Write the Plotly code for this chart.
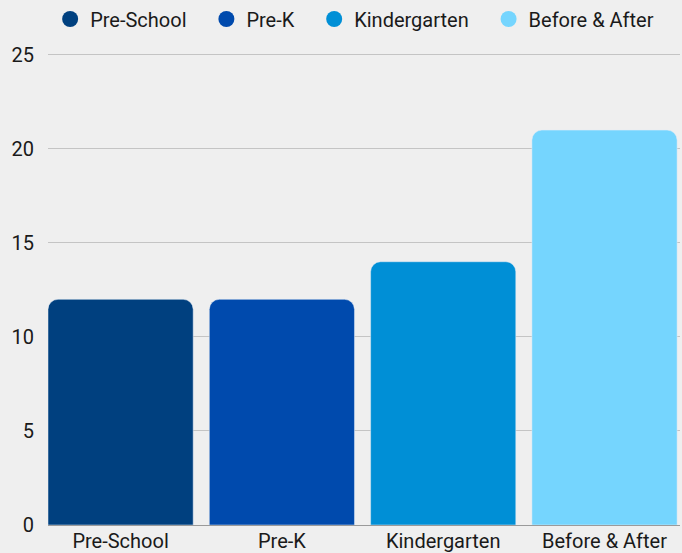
import plotly.graph_objects as go

categories = ["Pre-School", "Pre-K", "Kindergarten", "Before & After"]
values = [12, 12, 14, 21]
colors = ["#00407f", "#004aad", "#008fd6", "#75d5fe"]
y_ticks = [0, 5, 10, 15, 20, 25]

NBSP = "\u00a0"
pads = [3, 3, 3, 0]

fig = go.Figure()
for cat, val, col in zip(categories, values, colors):
    fig.add_trace(go.Bar(x=[cat], y=[val], marker_color=col, showlegend=False,
                         hoverinfo="x+y"))
for cat, col, p in zip(categories, colors, pads):
    fig.add_trace(go.Scatter(x=[None], y=[None], mode="markers", name=cat + NBSP * p,
                             marker=dict(symbol="circle", size=19, color=col)))

fig.update_layout(
    width=682, height=553,
    paper_bgcolor="#efefef", plot_bgcolor="#efefef",
    margin=dict(l=48, r=2, t=53, b=28),
    barmode="overlay", bargap=0.1, barcornerradius=10,
    font=dict(family="Roboto, sans-serif", size=20, color="#1a1a1a"),
    legend=dict(orientation="h", xref="container", yref="container",
                x=0.520, xanchor="center", y=0.9656, yanchor="middle",
                font=dict(size=20), bgcolor="rgba(0,0,0,0)", itemsizing="trace"),
    xaxis=dict(categoryorder="array", categoryarray=categories, range=[-0.45, 3.468],
               showgrid=False, showline=False, ticks="", tickfont=dict(size=20),
               ticklabelstandoff=2, zeroline=False, automargin=False),
    yaxis=dict(range=[0, 25.1], tickvals=y_ticks, showgrid=True, gridcolor="#c4c4c4",
               gridwidth=1, zeroline=True, zerolinecolor="#9a9a9a", zerolinewidth=1,
               ticks="", ticklabelstandoff=13, tickfont=dict(size=20), showline=False,
               automargin=False),
)

fig.write_html("out.html", config={"displayModeBar": False},
               post_script="document.body.style.margin='0px';")
